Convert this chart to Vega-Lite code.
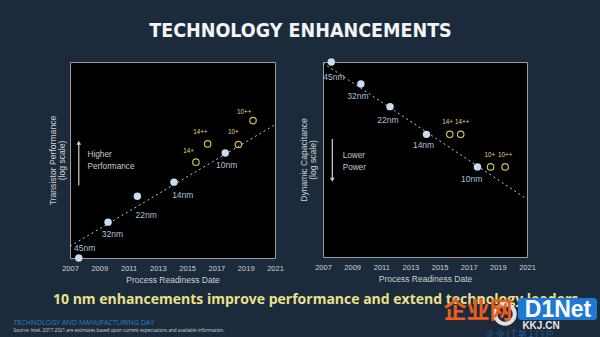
{
  "$schema": "https://vega.github.io/schema/vega-lite/v6.json",
  "background": "#1b2b3c",
  "padding": {"left": 13, "top": 21, "right": 0, "bottom": 0},
  "title": {
    "text": "TECHNOLOGY ENHANCEMENTS",
    "anchor": "middle",
    "dx": -6,
    "font": "'Liberation Sans Narrow', 'DejaVu Sans Condensed', 'Roboto Condensed', Roboto, sans-serif",
    "fontWeight": "bold",
    "fontSize": 19.5,
    "color": "#f2f4f6",
    "offset": 16
  },
  "datasets": {
    "perf": [
      {"node": "45nm", "year": 2007.6, "value": 0, "kind": "node"},
      {"node": "32nm", "year": 2009.6, "value": 18.3, "kind": "node"},
      {"node": "22nm", "year": 2011.6, "value": 31.5, "kind": "node"},
      {"node": "14nm", "year": 2014.1, "value": 38.7, "kind": "node"},
      {"node": "10nm", "year": 2017.6, "value": 53.6, "kind": "node"},
      {"node": "14+", "year": 2015.6, "value": 48.9, "kind": "plus"},
      {"node": "14++", "year": 2016.4, "value": 58.2, "kind": "plus"},
      {"node": "10+", "year": 2018.5, "value": 57.9, "kind": "plus"},
      {"node": "10++", "year": 2019.5, "value": 70.1, "kind": "plus"}
    ],
    "perfLabels": [
      {"label": "45nm", "year": 2008.0, "value": 5.2, "kind": "node"},
      {"label": "32nm", "year": 2009.9, "value": 12.5, "kind": "node"},
      {"label": "22nm", "year": 2012.2, "value": 21.7, "kind": "node"},
      {"label": "14nm", "year": 2014.7, "value": 32.1, "kind": "node"},
      {"label": "10nm", "year": 2017.7, "value": 47.3, "kind": "node"},
      {"label": "14+", "year": 2015.1, "value": 54.5, "kind": "plus"},
      {"label": "14++", "year": 2015.9, "value": 64.5, "kind": "plus"},
      {"label": "10+", "year": 2018.15, "value": 64.5, "kind": "plus"},
      {"label": "10++", "year": 2018.9, "value": 74.5, "kind": "plus"}
    ],
    "perfTrend": [
      {"year": 2007, "value": 6},
      {"year": 2021, "value": 68}
    ],
    "perfArrow": [{"year": 2007.6, "value": 37, "value2": 58.5}],
    "perfHead": [{"year": 2007.6, "value": 58.8}],
    "perfNote": [
      {"text": "Higher", "year": 2008.2, "value": 52.3},
      {"text": "Performance", "year": 2008.2, "value": 46.3}
    ],
    "cap": [
      {"node": "45nm", "year": 2007.57, "value": 100, "kind": "node"},
      {"node": "32nm", "year": 2009.6, "value": 88.7, "kind": "node"},
      {"node": "22nm", "year": 2011.6, "value": 77.1, "kind": "node"},
      {"node": "14nm", "year": 2014.1, "value": 62.9, "kind": "node"},
      {"node": "10nm", "year": 2017.6, "value": 46.2, "kind": "node"},
      {"node": "14+", "year": 2015.7, "value": 62.9, "kind": "plus"},
      {"node": "14++", "year": 2016.45, "value": 62.9, "kind": "plus"},
      {"node": "10+", "year": 2018.5, "value": 46.2, "kind": "plus"},
      {"node": "10++", "year": 2019.5, "value": 46.2, "kind": "plus"}
    ],
    "capLabels": [
      {"label": "45nm", "year": 2007.75, "value": 92.5, "kind": "node"},
      {"label": "32nm", "year": 2009.4, "value": 82.4, "kind": "node"},
      {"label": "22nm", "year": 2011.45, "value": 70.1, "kind": "node"},
      {"label": "14nm", "year": 2013.9, "value": 57.4, "kind": "node"},
      {"label": "10nm", "year": 2017.2, "value": 40, "kind": "node"},
      {"label": "14+", "year": 2015.55, "value": 69.4, "kind": "plus"},
      {"label": "14++", "year": 2016.55, "value": 69.4, "kind": "plus"},
      {"label": "10+", "year": 2018.45, "value": 52.2, "kind": "plus"},
      {"label": "10++", "year": 2019.5, "value": 52.2, "kind": "plus"}
    ],
    "capTrend": [
      {"year": 2007, "value": 99.5},
      {"year": 2021, "value": 29.7}
    ],
    "capArrow": [{"year": 2007.64, "value": 40, "value2": 60.5}],
    "capHead": [{"year": 2007.64, "value": 39.6}],
    "capNote": [
      {"text": "Lower", "year": 2008.35, "value": 51.8},
      {"text": "Power", "year": 2008.35, "value": 45.8}
    ],
    "footer": [
      {"text": "10 nm enhancements improve performance and extend technology leadership", "x": 40, "y": 14.5, "role": "headline"},
      {"text": "TECHNOLOGY AND MANUFACTURING DAY", "x": 0.5, "y": 33.8, "role": "event"},
      {"text": "Source: Intel. 2017-2021 are estimates based upon current expectations and available information.", "x": 0.5, "y": 42.2, "role": "source"}
    ],
    "wmBox": [{"x": 505, "x2": 584, "y": 9, "y2": 31}],
    "wmRing": [{"x": 492, "y": 25}],
    "wm": [
      {"text": "企业网", "x": 465, "y": 29, "role": "cn"},
      {"text": "D1Net", "x": 545, "y": 28, "role": "d1"},
      {"text": "KKJ.CN", "x": 528, "y": 36.5, "role": "kkj"},
      {"text": "企 业 I T 第 1 门 户", "x": 507, "y": 44.5, "role": "slogan"}
    ]
  },
  "config": {
    "view": {"fill": "#000000", "stroke": "#9c9c9c", "strokeWidth": 1},
    "font": "Liberation Sans",
    "axis": {
      "grid": false, "domain": false, "ticks": false, "tickSize": 0,
      "labelColor": "#d0d0d0", "titleColor": "#d0d0d0",
      "labelFont": "Liberation Sans", "titleFont": "Liberation Sans",
      "titleFontWeight": "normal", "labelOverlap": false, "labelFlush": false
    }
  },
  "vconcat": [
    {
      "hconcat": [
        {
          "width": 20, "height": 196,
          "view": {"fill": null, "stroke": null},
          "data": {"values": [{"a": 1}]},
          "mark": {"type": "point", "opacity": 0}
        },
        {
          "width": 205, "height": 196,
          "layer": [
            {
              "data": {"name": "perfTrend"},
              "mark": {"type": "line", "color": "#c8c8c8", "strokeDash": [2, 3], "strokeWidth": 1},
              "encoding": {
                "x": {"field": "year", "type": "quantitative",
                      "scale": {"domain": [2007, 2021], "nice": false, "zero": false},
                      "axis": {"title": "Process Readiness Date", "values": [2007, 2009, 2011, 2013, 2015, 2017, 2019, 2021], "tickCount": 20, "format": "d", "labelFontSize": 7.5, "labelPadding": 6, "titleFontSize": 8.5, "titlePadding": 4}},
                "y": {"field": "value", "type": "quantitative",
                      "scale": {"domain": [0, 100], "nice": false},
                      "axis": {"title": ["Transistor Performance", "(log scale)"], "labels": false, "titleFontSize": 8.6, "titlePadding": 4, "titleLineHeight": 9}}
              }
            },
            {
              "data": {"name": "perfArrow"},
              "mark": {"type": "rule", "color": "#cfcfcf", "strokeWidth": 1.2},
              "encoding": {"x": {"field": "year", "type": "quantitative"}, "y": {"field": "value", "type": "quantitative"}, "y2": {"field": "value2"}}
            },
            {
              "data": {"name": "perfHead"},
              "mark": {"type": "point", "shape": "triangle-up", "filled": true, "color": "#cfcfcf", "size": 22, "opacity": 1},
              "encoding": {"x": {"field": "year", "type": "quantitative"}, "y": {"field": "value", "type": "quantitative"}}
            },
            {
              "data": {"name": "perfNote"},
              "mark": {"type": "text", "align": "left", "baseline": "middle", "fontSize": 8.2, "color": "#c9c9c9"},
              "encoding": {"x": {"field": "year", "type": "quantitative"}, "y": {"field": "value", "type": "quantitative"}, "text": {"field": "text"}}
            },
            {
              "data": {"name": "perf"},
              "transform": [{"filter": "datum.kind === 'node'"}],
              "mark": {"type": "circle", "size": 55, "color": "#c8dcf2", "opacity": 1},
              "encoding": {"x": {"field": "year", "type": "quantitative"}, "y": {"field": "value", "type": "quantitative"}}
            },
            {
              "data": {"name": "perf"},
              "transform": [{"filter": "datum.kind === 'plus'"}],
              "mark": {"type": "point", "shape": "circle", "filled": false, "size": 42, "stroke": "#cdbf50", "strokeWidth": 1.2, "opacity": 1},
              "encoding": {"x": {"field": "year", "type": "quantitative"}, "y": {"field": "value", "type": "quantitative"}}
            },
            {
              "data": {"name": "perfLabels"},
              "transform": [{"filter": "datum.kind === 'node'"}],
              "mark": {"type": "text", "baseline": "middle", "fontSize": 8.5, "color": "#a9c1db"},
              "encoding": {"x": {"field": "year", "type": "quantitative"}, "y": {"field": "value", "type": "quantitative"}, "text": {"field": "label"}}
            },
            {
              "data": {"name": "perfLabels"},
              "transform": [{"filter": "datum.kind === 'plus'"}],
              "mark": {"type": "text", "baseline": "middle", "fontSize": 6.3, "color": "#e0d585"},
              "encoding": {"x": {"field": "year", "type": "quantitative"}, "y": {"field": "value", "type": "quantitative"}, "text": {"field": "label"}}
            }
          ]
        },
        {
          "width": 204, "height": 195,
          "layer": [
            {
              "data": {"name": "capTrend"},
              "mark": {"type": "line", "color": "#c8c8c8", "strokeDash": [2, 3], "strokeWidth": 1},
              "encoding": {
                "x": {"field": "year", "type": "quantitative",
                      "scale": {"domain": [2007, 2021], "nice": false, "zero": false},
                      "axis": {"title": "Process Readiness Date", "values": [2007, 2009, 2011, 2013, 2015, 2017, 2019, 2021], "tickCount": 20, "format": "d", "labelFontSize": 7.5, "labelPadding": 6, "titleFontSize": 8.5, "titlePadding": 4}},
                "y": {"field": "value", "type": "quantitative",
                      "scale": {"domain": [0, 100], "nice": false},
                      "axis": {"title": ["Dynamic Capacitance", "(log scale)"], "labels": false, "titleFontSize": 8.6, "titlePadding": 6, "titleLineHeight": 9}}
              }
            },
            {
              "data": {"name": "capArrow"},
              "mark": {"type": "rule", "color": "#cfcfcf", "strokeWidth": 1.2},
              "encoding": {"x": {"field": "year", "type": "quantitative"}, "y": {"field": "value", "type": "quantitative"}, "y2": {"field": "value2"}}
            },
            {
              "data": {"name": "capHead"},
              "mark": {"type": "point", "shape": "triangle-down", "filled": true, "color": "#cfcfcf", "size": 22, "opacity": 1},
              "encoding": {"x": {"field": "year", "type": "quantitative"}, "y": {"field": "value", "type": "quantitative"}}
            },
            {
              "data": {"name": "capNote"},
              "mark": {"type": "text", "align": "left", "baseline": "middle", "fontSize": 8.2, "color": "#c9c9c9"},
              "encoding": {"x": {"field": "year", "type": "quantitative"}, "y": {"field": "value", "type": "quantitative"}, "text": {"field": "text"}}
            },
            {
              "data": {"name": "cap"},
              "transform": [{"filter": "datum.kind === 'node'"}],
              "mark": {"type": "circle", "size": 55, "color": "#c8dcf2", "opacity": 1},
              "encoding": {"x": {"field": "year", "type": "quantitative"}, "y": {"field": "value", "type": "quantitative"}}
            },
            {
              "data": {"name": "cap"},
              "transform": [{"filter": "datum.kind === 'plus'"}],
              "mark": {"type": "point", "shape": "circle", "filled": false, "size": 42, "stroke": "#cdbf50", "strokeWidth": 1.2, "opacity": 1},
              "encoding": {"x": {"field": "year", "type": "quantitative"}, "y": {"field": "value", "type": "quantitative"}}
            },
            {
              "data": {"name": "capLabels"},
              "transform": [{"filter": "datum.kind === 'node'"}],
              "mark": {"type": "text", "baseline": "middle", "fontSize": 8.5, "color": "#a9c1db"},
              "encoding": {"x": {"field": "year", "type": "quantitative"}, "y": {"field": "value", "type": "quantitative"}, "text": {"field": "label"}}
            },
            {
              "data": {"name": "capLabels"},
              "transform": [{"filter": "datum.kind === 'plus'"}],
              "mark": {"type": "text", "baseline": "middle", "fontSize": 6.3, "color": "#e0d585"},
              "encoding": {"x": {"field": "year", "type": "quantitative"}, "y": {"field": "value", "type": "quantitative"}, "text": {"field": "label"}}
            }
          ]
        }
      ],
      "spacing": 14
    },
    {
      "width": 587, "height": 46,
      "view": {"fill": null, "stroke": null},
      "layer": [
        {
          "data": {"name": "footer"},
          "transform": [{"filter": "datum.role === 'headline'"}],
          "mark": {"type": "text", "align": "left", "baseline": "alphabetic", "font": "Open Sans", "fontWeight": "bold", "fontSize": 14, "color": "#ebe08a", "limit": 540, "ellipsis": ""},
          "encoding": {
            "x": {"field": "x", "type": "quantitative", "scale": {"domain": [0, 587], "nice": false, "zero": false}, "axis": null},
            "y": {"field": "y", "type": "quantitative", "scale": {"domain": [0, 46], "reverse": true, "nice": false, "zero": false}, "axis": null},
            "text": {"field": "text"}
          }
        },
        {
          "data": {"name": "footer"},
          "transform": [{"filter": "datum.role === 'event'"}],
          "mark": {"type": "text", "align": "left", "baseline": "middle", "font": "Open Sans", "fontSize": 7.1, "color": "#2f7fc1"},
          "encoding": {"x": {"field": "x", "type": "quantitative"}, "y": {"field": "y", "type": "quantitative"}, "text": {"field": "text"}}
        },
        {
          "data": {"name": "footer"},
          "transform": [{"filter": "datum.role === 'source'"}],
          "mark": {"type": "text", "align": "left", "baseline": "middle", "font": "Open Sans", "fontSize": 4.6, "color": "#d6d6d6"},
          "encoding": {"x": {"field": "x", "type": "quantitative"}, "y": {"field": "y", "type": "quantitative"}, "text": {"field": "text"}}
        },
        {
          "data": {"name": "wmRing"},
          "mark": {"type": "point", "shape": "circle", "filled": false, "size": 380, "stroke": "#f4f4f4", "strokeWidth": 4, "opacity": 0.9},
          "encoding": {"x": {"field": "x", "type": "quantitative"}, "y": {"field": "y", "type": "quantitative"}}
        },
        {
          "data": {"name": "wmBox"},
          "mark": {"type": "rect", "color": "#1f78d4", "cornerRadius": 3, "opacity": 1},
          "encoding": {"x": {"field": "x", "type": "quantitative"}, "x2": {"field": "x2"}, "y": {"field": "y", "type": "quantitative"}, "y2": {"field": "y2"}}
        },
        {
          "data": {"name": "wm"},
          "transform": [{"filter": "datum.role === 'cn'"}],
          "mark": {"type": "text", "align": "center", "baseline": "alphabetic", "font": "Noto Sans CJK SC", "fontWeight": "bold", "fontSize": 23, "color": "#ea5f1c"},
          "encoding": {"x": {"field": "x", "type": "quantitative"}, "y": {"field": "y", "type": "quantitative"}, "text": {"field": "text"}}
        },
        {
          "data": {"name": "wm"},
          "transform": [{"filter": "datum.role === 'd1'"}],
          "mark": {"type": "text", "align": "center", "baseline": "alphabetic", "font": "Liberation Sans", "fontWeight": "bold", "fontSize": 23, "color": "#ffffff"},
          "encoding": {"x": {"field": "x", "type": "quantitative"}, "y": {"field": "y", "type": "quantitative"}, "text": {"field": "text"}}
        },
        {
          "data": {"name": "wm"},
          "transform": [{"filter": "datum.role === 'kkj'"}],
          "mark": {"type": "text", "align": "center", "baseline": "middle", "font": "Liberation Sans", "fontWeight": "bold", "fontSize": 10, "color": "#e8e8e8"},
          "encoding": {"x": {"field": "x", "type": "quantitative"}, "y": {"field": "y", "type": "quantitative"}, "text": {"field": "text"}}
        },
        {
          "data": {"name": "wm"},
          "transform": [{"filter": "datum.role === 'slogan'"}],
          "mark": {"type": "text", "align": "center", "baseline": "middle", "font": "Noto Sans CJK SC", "fontSize": 8.5, "color": "#1d5e9e"},
          "encoding": {"x": {"field": "x", "type": "quantitative"}, "y": {"field": "y", "type": "quantitative"}, "text": {"field": "text"}}
        }
      ]
    }
  ],
  "spacing": 4
}
